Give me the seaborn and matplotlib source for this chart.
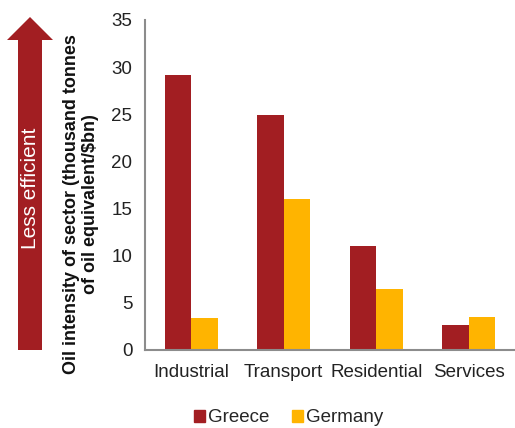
import matplotlib
matplotlib.use("Agg")
import matplotlib.pyplot as plt
import matplotlib.patches as mpatches
import pandas as pd
import seaborn as sns

sectors = ["Industrial", "Transport", "Residential", "Services"]
greece = [29.2, 24.9, 11.0, 2.7]
germany = [3.4, 16.0, 6.5, 3.5]
countries = ["Greece", "Germany"]
yticks = [0, 5, 10, 15, 20, 25, 30, 35]

RED = "#A21E22"
AMBER = "#FFB400"
GREY = "#8C8C8C"

df = pd.DataFrame({
    "sector": sectors * 2,
    "country": [countries[0]] * 4 + [countries[1]] * 4,
    "value": greece + germany,
})

sns.set_theme(style="white")
plt.rcParams["font.family"] = ["Liberation Sans", "DejaVu Sans"]

W, H = 515, 428
fig = plt.figure(figsize=(W / 100, H / 100), dpi=100)
ax = fig.add_axes([145 / W, 1 - 350 / H, 1 - 145 / W, (350 - 20) / H])

sns.barplot(data=df, x="sector", y="value", hue="country", order=sectors,
            hue_order=countries, palette=[RED, AMBER], width=0.57,
            linewidth=0, saturation=1, ax=ax, legend=False)

ax.set_ylim(0, 35)
ax.set_xlim(-0.5, 3.5)
ax.set_yticks(yticks)
ax.set_yticklabels([str(t) for t in yticks], fontsize=13.5, color="#222222")
ax.set_xticks(range(len(sectors)))
ax.set_xticklabels(sectors, fontsize=13.5, color="#222222")
ax.set_xticks([-0.5, 0.5, 1.5, 2.5], minor=True)
ax.tick_params(axis="x", which="major", length=0, pad=10)
ax.tick_params(axis="x", which="minor", length=5, width=1.5, color=GREY, direction="out")
ax.tick_params(axis="y", length=4, width=1.5, color=GREY, direction="out", pad=5)
ax.set_xlabel("")
ax.set_ylabel("")
for side in ["top", "right"]:
    ax.spines[side].set_visible(False)
for side in ["left", "bottom"]:
    ax.spines[side].set_color(GREY)
    ax.spines[side].set_linewidth(1.5)

# axis title, placed as figure text
fig.text(81 / W, 1 - 204 / H,
         "Oil intensity of sector (thousand tonnes\nof oil equivalent/$bn)",
         rotation=90, ha="center", va="center", fontsize=13,
         fontweight="bold", color="#111111", linespacing=1.2)

# "Less efficient" arrow
px = lambda x: x / W
py = lambda y: 1 - y / H
arrow = mpatches.Polygon(
    [(px(18), py(350)), (px(42), py(350)), (px(42), py(40)), (px(53), py(40)),
     (px(30), py(17)), (px(7), py(40)), (px(18), py(40))],
    closed=True, transform=fig.transFigure, facecolor=RED, edgecolor="none")
fig.patches.append(arrow)
fig.text(px(30), py(188), "Less efficient", rotation=90, ha="center",
         va="center", fontsize=15, color="white")

handles = [mpatches.Patch(color=RED, label=countries[0]),
           mpatches.Patch(color=AMBER, label=countries[1])]
fig.legend(handles=handles, loc="center", bbox_to_anchor=(289 / W, 1 - 418 / H),
           ncol=2, frameon=False, fontsize=13.5, handlelength=0.55,
           handleheight=0.55, handletextpad=0.2, columnspacing=1.2)

fig.savefig("out.png", dpi=100)
